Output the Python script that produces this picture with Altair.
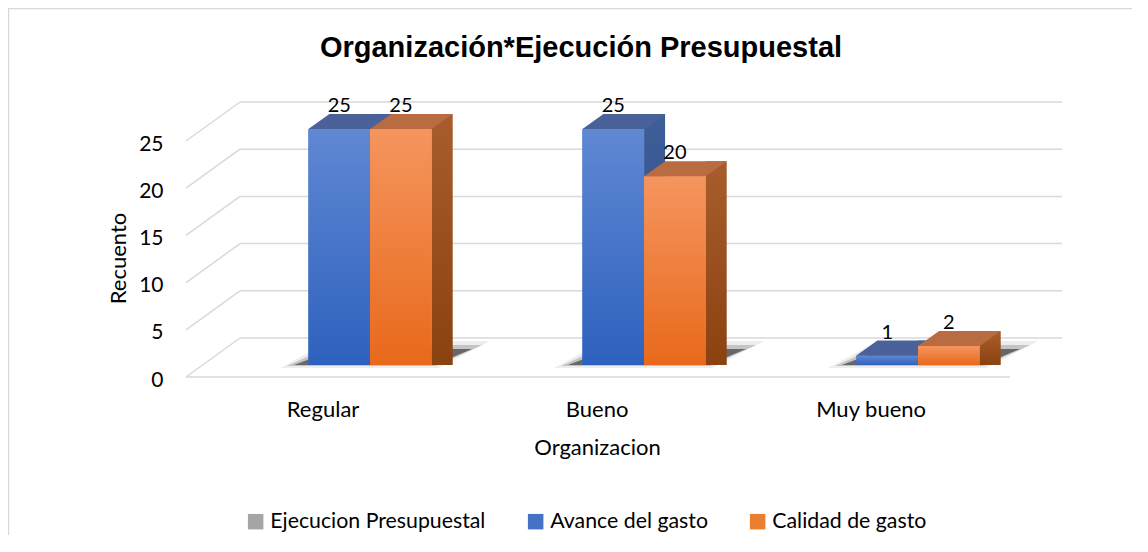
import altair as alt
import pandas as pd

# ---------------- data ----------------
categorias = ["Regular", "Bueno", "Muy bueno"]
series = ["Avance del gasto", "Calidad de gasto"]
avance_del_gasto = [25, 25, 1]
calidad_de_gasto = [25, 20, 2]
leyenda = ["Ejecucion Presupuestal", "Avance del gasto", "Calidad de gasto"]
ticks_y = [0, 5, 10, 15, 20, 25]
titulo = "Organización*Ejecución Presupuestal"

rows = []
for i, c in enumerate(categorias):
    rows.append({"cat": c, "serie": series[0], "valor": avance_del_gasto[i], "cero": 0})
    rows.append({"cat": c, "serie": series[1], "valor": calidad_de_gasto[i], "cero": 0})
df = pd.DataFrame(rows)
grid_df = pd.DataFrame({"valor": ticks_y})
floor_df = pd.DataFrame({"valor": [0]})
cat_df = pd.DataFrame({"cat": categorias, "valor": [0] * len(categorias)})

# ---------------- layout / style ----------------
W, H = 872, 236
STEP = 274.0
PI = 0.55
HW = STEP * (1 - PI) / 4.0          # half width of one bar
DX, DY = 21, 15                      # 3D depth offsets
BACK = -27                           # back wall offset
FRONT = 13                           # front edge offset
FONT = "Lato"

BLUE, ORANGE, GRAY = "#4472C4", "#ED7D31", "#A5A5A5"

def grad(top, bottom):
    return alt.Gradient(gradient="linear", x1=0, x2=0, y1=0, y2=1,
                        stops=[alt.GradientStop(color=top, offset=0),
                               alt.GradientStop(color=bottom, offset=1)])

style = {
    series[0]: dict(k=-1, front=grad("#6088d3", "#2e61be"), side=grad("#3f5e98", "#2b4c88"), top="#4a6299"),
    series[1]: dict(k=1, front=grad("#f5955e", "#e8691b"), side=grad("#a95d2c", "#8a4210"), top="#b96c41"),
}

x_enc = alt.X("cat:N", sort=categorias,
              scale=alt.Scale(domain=categorias, paddingInner=PI, paddingOuter=0.3662, align=0.6),
              axis=alt.Axis(title="Organizacion", labelOffset=-47, labelPadding=34, ticks=False,
                            domain=False, labelAngle=0, labelFontSize=22, labelFont=FONT,
                            labelColor="#000000", titleFont=FONT, titleFontSize=22,
                            titleFontWeight="normal", titleColor="#000000", titleX=409, titleY=89,
                            titleBaseline="alphabetic", titleAlign="center"))
y_enc = alt.Y("valor:Q", scale=alt.Scale(domain=[0, 25], nice=False, zero=True),
              axis=alt.Axis(values=ticks_y, title="Recuento", labelOffset=FRONT + 2, labelPadding=25,
                            ticks=False, tickSize=0, domain=False, grid=False, labelFontSize=21,
                            labelFont=FONT, labelColor="#000000", titleFont=FONT, titleFontSize=22,
                            titleFontWeight="normal", titleColor="#000000", titleX=-70, titleY=129,
                            titleAngle=270, titleAlign="center", titleBaseline="middle"))

color_enc = alt.Color("serie:N", scale=alt.Scale(domain=leyenda, range=[GRAY, BLUE, ORANGE]),
                      legend=alt.Legend(orient="none", legendX=57, legendY=382, direction="horizontal",
                                        title=None, symbolType="square", symbolSize=240,
                                        symbolStrokeWidth=0, labelFontSize=21.3, labelFont=FONT,
                                        labelColor="#000000", columnPadding=39, labelOffset=4,
                                        labelLimit=0, padding=0))

# border
border = alt.Chart(pd.DataFrame({"b": [1]})).mark_rect(
    fill="white", fillOpacity=0, stroke="#d9d9d9", strokeWidth=1.5
).encode(x=alt.value(-179.5), x2=alt.value(W + 300), y=alt.value(-120.5), y2=alt.value(H + 400))

# title as text
title = alt.Chart(pd.DataFrame({"t": [titulo]})).mark_text(
    font="Liberation Sans", fontSize=29, fontWeight="bold", color="#000000",
    align="center", baseline="alphabetic"
).encode(x=alt.value(581 - 188), y=alt.value(57 - 129), text="t:N")

# gridlines
back = alt.Chart(grid_df).mark_rule(color="#d9d9d9", strokeWidth=1.5, yOffset=BACK).encode(
    x=alt.value(52), x2=alt.value(874), y=y_enc)
slant = alt.Chart(grid_df).mark_rule(color="#d9d9d9", strokeWidth=1.5, yOffset=FRONT - 1,
                                     y2Offset=BACK).encode(
    x=alt.value(-2), x2=alt.value(52), y=y_enc, y2=alt.Y2("valor"))
floor = alt.Chart(floor_df).mark_rule(color="#d9d9d9", strokeWidth=1.5, yOffset=FRONT - 1).encode(
    x=alt.value(-2), x2=alt.value(822), y=y_enc)

# floor shadows (soft, layered)
sh_outer = "M -90 3 L 68 3 L 120 -24 L -40 -24 Z"
sh_mid = "M -83 1 L 66 1 L 112 -20 L -37 -20 Z"
sh_inner = "M -76 0 L 64 0 L 102 -16 L -34 -16 Z"
shadow0 = alt.Chart(cat_df).mark_point(shape=sh_outer, size=4, filled=True, fill="#9a9a9a",
                                       opacity=0.18, strokeWidth=0).encode(x=x_enc, y=y_enc)
shadow1 = alt.Chart(cat_df).mark_point(shape=sh_mid, size=4, filled=True, fill="#666666",
                                       opacity=0.3, strokeWidth=0).encode(x=x_enc, y=y_enc)
shadow2 = alt.Chart(cat_df).mark_point(shape=sh_inner, size=4, filled=True, fill="#2a2a2a",
                                       opacity=0.6, strokeWidth=0).encode(x=x_enc, y=y_enc)

layers = [border, title, back, slant, floor, shadow0, shadow1, shadow2]
top_path = f"M {-HW:.2f} 0 L {HW:.2f} 0 L {HW + DX:.2f} {-DY} L {-HW + DX:.2f} {-DY} Z"
for s in series:
    st = style[s]
    c = st["k"] * HW
    d = alt.Chart(df).transform_filter(alt.datum.serie == s)
    base = d.mark_bar(width=2 * HW, xOffset=c).encode(
        x=x_enc, y=y_enc, y2=alt.Y2("cero"), color=color_enc)
    side = d.mark_bar(width=DX, xOffset=c + HW + DX / 2, yOffset=-DY, y2Offset=0,
                      fill=st["side"]).encode(x=x_enc, y=y_enc, y2=alt.Y2("cero"))
    front = d.mark_bar(width=2 * HW, xOffset=c, fill=st["front"]).encode(
        x=x_enc, y=y_enc, y2=alt.Y2("cero"))
    topf = d.mark_point(shape=top_path, size=4, filled=True, fill=st["top"], opacity=1,
                        strokeWidth=0, xOffset=c).encode(x=x_enc, y=y_enc)
    lab = d.mark_text(dy=-17, xOffset=c, baseline="alphabetic", fontSize=20, font=FONT,
                      color="#000000").encode(x=x_enc, y=y_enc, text="valor:Q")
    layers += [base, side, front, topf, lab]

chart = alt.layer(*layers).properties(
    width=W, height=H,
    padding={"left": 180, "top": 121, "right": 72, "bottom": 170},
    autosize=alt.AutoSizeParams(type="none"),
    background="white",
).configure_view(stroke=None)

chart.save("out.html", embed_options={"renderer": "svg", "actions": False})
